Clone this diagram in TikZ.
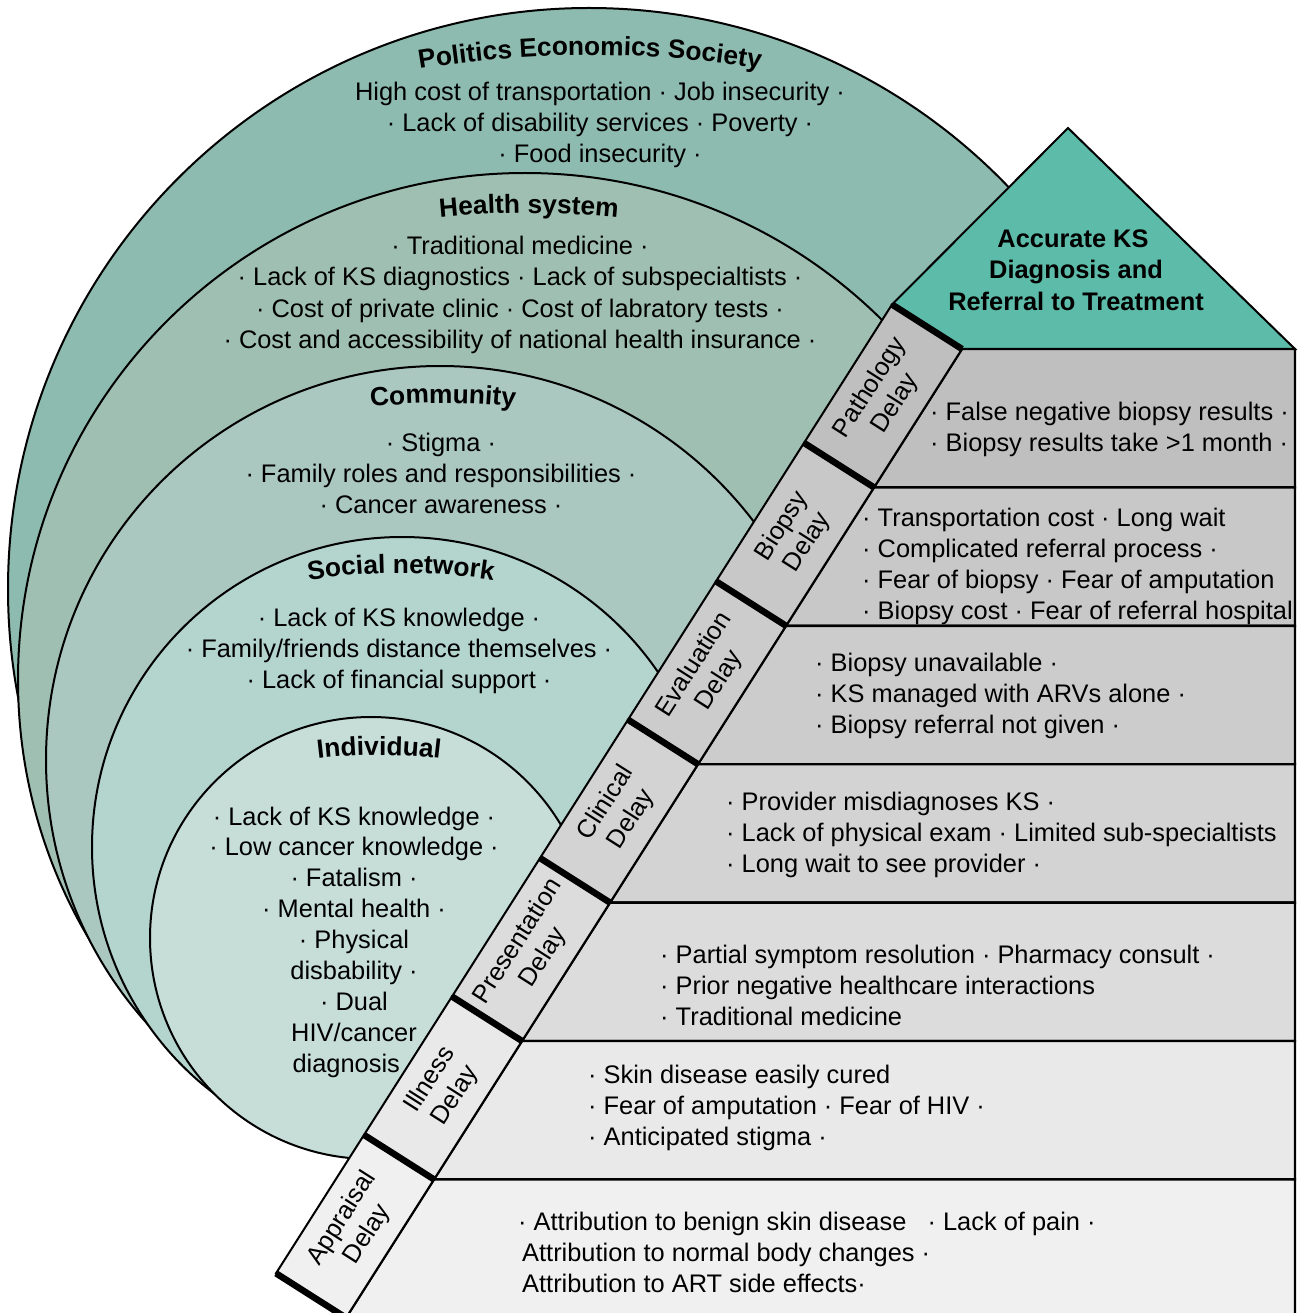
\documentclass[tikz,border=0pt]{standalone}
\usepackage{fontspec}
\setmainfont{Liberation Sans}
\usetikzlibrary{decorations.text}
\definecolor{cO}{RGB}{142,187,175}
\definecolor{cH}{RGB}{160,191,179}
\definecolor{cC}{RGB}{170,199,192}
\definecolor{cS}{RGB}{180,212,206}
\definecolor{cI}{RGB}{199,222,216}
\definecolor{tri}{RGB}{92,187,169}
\definecolor{rowA}{RGB}{191,191,191}
\definecolor{rowB}{RGB}{200,200,200}
\definecolor{rowC}{RGB}{204,204,204}
\definecolor{rowD}{RGB}{211,211,211}
\definecolor{rowE}{RGB}{220,220,220}
\definecolor{rowF}{RGB}{233,233,233}
\definecolor{rowG}{RGB}{240,240,240}
\newcommand\ttlfont{\fontsize{26.3}{30}\selectfont\bfseries}
\begin{document}
\begin{tikzpicture}[x=1pt,y=-1pt,
  dome/.style={draw=black,line width=2pt},
  body/.style={font=\fontsize{25.4}{31}\selectfont,inner sep=0pt},
  delaylbl/.style={font=\fontsize{25.4}{30}\selectfont,inner sep=0pt,align=center,rotate=57.5},
  rowline/.style={draw=black,line width=2.4pt},
  bandline/.style={draw=black,line width=2pt},
  sepline/.style={draw=black,line width=6.5pt},
  ttl/.style={decorate,decoration={text along path,text align=center,text={|\ttlfont|#1}}}]
\useasboundingbox (0,0) rectangle (1306,1313);
\fill[white] (0,0) rectangle (1306,1313);
\clip (0,0) rectangle (1306,1313);
% nested domes
\filldraw[dome,fill=cO] (589,589) circle[radius=581];
\filldraw[dome,fill=cH] (525,680) circle[radius=507];
\filldraw[dome,fill=cC] (440,760) circle[radius=394];
\filldraw[dome,fill=cS] (402,847) circle[radius=310];
\filldraw[dome,fill=cI] (371,938) circle[radius=221];
% titles along arcs
\path[ttl={Politics Economics Society}] plot[domain=255:285,samples=40,smooth] ({590+1050*cos(\x)},{1105+1050*sin(\x)});
\path[ttl={Health system}] plot[domain=250:290,samples=40,smooth] ({529+900*cos(\x)},{1113+900*sin(\x)});
\path[ttl={Community}] plot[domain=250:290,samples=40,smooth] ({443+700*cos(\x)},{1103+700*sin(\x)});
\path[ttl={Social network}] plot[domain=245:295,samples=40,smooth] ({401+600*cos(\x)},{1173+600*sin(\x)});
\path[ttl={Individual}] plot[domain=245:295,samples=40,smooth] ({379+500*cos(\x)},{1255+500*sin(\x)});
% dome texts
\foreach \t [count=\i] in {High cost of transportation · Job insecurity ·,· Lack of disability services · Poverty ·,· Food insecurity ·}
  \node[body,anchor=base] (po\i) at (600,{101+31*(\i-1)}) {\t};
\foreach \t [count=\i] in {· Traditional medicine ·,· Lack of KS diagnostics · Lack of subspecialtists ·,· Cost of private clinic · Cost of labratory tests ·,· Cost and accessibility of national health insurance ·}
  \node[body,anchor=base] (hs\i) at (520,{255+31*(\i-1)}) {\t};
\foreach \t [count=\i] in {· Stigma ·,· Family roles and responsibilities ·,· Cancer awareness ·}
  \node[body,anchor=base] (cm\i) at (441,{451+31*(\i-1)}) {\t};
\foreach \t [count=\i] in {· Lack of KS knowledge ·,· Family/friends distance themselves ·,· Lack of financial support ·}
  \node[body,anchor=base] (sn\i) at (399,{626+31*(\i-1)}) {\t};
\foreach \t [count=\i] in {· Lack of KS knowledge ·,· Low cancer knowledge ·,· Fatalism ·,· Mental health ·,· Physical,disbability ·,· Dual,HIV/cancer,diagnosis ·}
  \node[body,anchor=base] (in\i) at (354,{825+30.9*(\i-1)}) {\t};
% geometry of the delay band
\foreach \k in {0,...,7}{
  \coordinate (R\k) at ({962-88*\k},{349+138.4*\k});
  \coordinate (L\k) at ({892-88*\k},{304.5+138.4*\k});
}
\coordinate (E) at (1295,0);
\coordinate (apex) at (1068,128);
% goal triangle
\filldraw[bandline,fill=tri] (L0) -- (apex) -- (1295,349) -- (R0) -- cycle;
% rows
\foreach \k/\c in {0/rowA,1/rowB,2/rowC,3/rowD,4/rowE,5/rowF,6/rowG}{
  \pgfmathtruncatemacro\kk{\k+1}
  \filldraw[rowline,fill=\c] (R\k) -- (R\k -| E) -- (R\kk -| E) -- (R\kk) -- cycle;
}
% band segments
\foreach \k/\c in {0/rowA,1/rowB,2/rowC,3/rowD,4/rowE,5/rowF,6/rowG}{
  \pgfmathtruncatemacro\kk{\k+1}
  \filldraw[bandline,fill=\c] (L\k) -- (R\k) -- (R\kk) -- (L\kk) -- cycle;
}
\foreach \k in {0,...,7} \draw[sepline] (L\k) -- (R\k);
% delay labels
\foreach \k/\a in {0/Pathology,1/Biopsy,2/Evaluation,3/Clinical,4/Presentation,5/Illness,6/Appraisal}
  \node[delaylbl] (d\k) at ({883-88*\k},{396+138.4*\k}) {\a\\Delay};
% goal text
\node[body,anchor=base,font=\fontsize{25.4}{31}\selectfont\bfseries] (g1) at (1073,248) {Accurate KS};
\node[body,anchor=base,font=\fontsize{25.4}{31}\selectfont\bfseries] (g2) at (1076,279) {Diagnosis and};
\node[body,anchor=base,font=\fontsize{25.4}{31}\selectfont\bfseries] (g3) at (1076,310) {Referral to Treatment};
% row texts
\foreach \t [count=\i] in {· False negative biopsy results ·,· Biopsy results take >1 month ·}
  \node[body,anchor=base west] (pa\i) at (930,{420+31*(\i-1)}) {\t};
\foreach \t [count=\i] in {· Transportation cost · Long wait,· Complicated referral process ·,· Fear of biopsy · Fear of amputation,· Biopsy cost · Fear of referral hospital}
  \node[body,anchor=base west] (bi\i) at (862,{526+31*(\i-1)}) {\t};
\foreach \t [count=\i] in {· Biopsy unavailable ·,· KS managed with ARVs alone ·,· Biopsy referral not given ·}
  \node[body,anchor=base west] (ev\i) at (815,{671+31*(\i-1)}) {\t};
\foreach \t [count=\i] in {· Provider misdiagnoses KS ·,· Lack of physical exam · Limited sub-specialtists,· Long wait to see provider ·}
  \node[body,anchor=base west] (cl\i) at (726,{810+31*(\i-1)}) {\t};
\foreach \t [count=\i] in {· Partial symptom resolution · Pharmacy consult ·,· Prior negative healthcare interactions,· Traditional medicine}
  \node[body,anchor=base west] (pr\i) at (660,{963+31*(\i-1)}) {\t};
\foreach \t [count=\i] in {· Skin disease easily cured,· Fear of amputation · Fear of HIV ·,· Anticipated stigma ·}
  \node[body,anchor=base west] (il\i) at (588,{1083+31*(\i-1)}) {\t};
\node[body,anchor=base west] (ap1) at (518,1230) {· Attribution to benign skin disease \ \ · Lack of pain ·};
\node[body,anchor=base west] (ap2) at (522,1261) {Attribution to normal body changes ·};
\node[body,anchor=base west] (ap3) at (522,1292) {Attribution to ART side effects·};
\end{tikzpicture}
\end{document}
